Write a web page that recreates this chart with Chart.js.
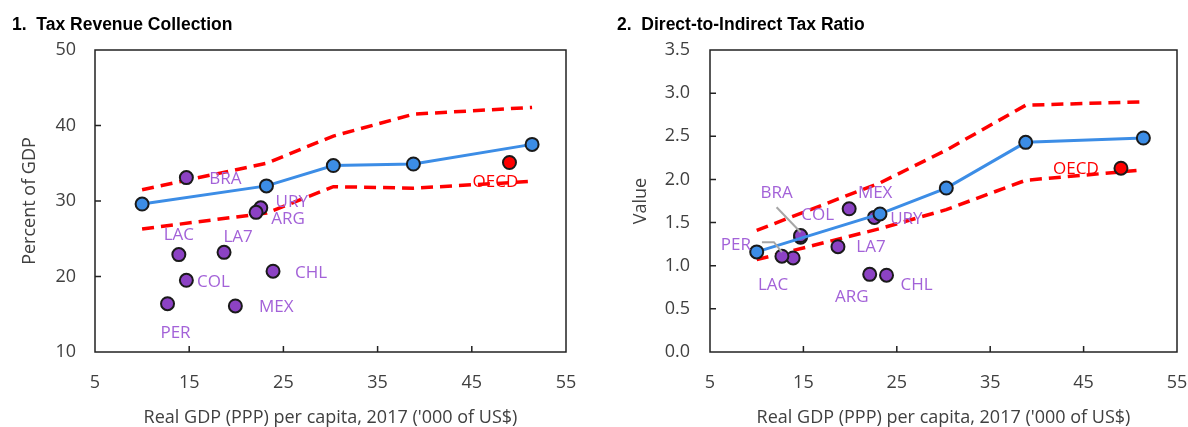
<!DOCTYPE html>
<html>
<head>
<meta charset="utf-8">
<script src="https://cdn.jsdelivr.net/npm/chart.js@4.4.1/dist/chart.umd.min.js"></script>
<style>
  html, body { margin: 0; padding: 0; background: #fff; }
  #wrap { position: relative; width: 1188px; height: 427px; overflow: hidden; }
  canvas { position: absolute; top: 0; }
</style>
</head>
<body>
<div id="wrap">
  <canvas id="revenue-chart" width="594" height="427" style="left:0"></canvas>
  <canvas id="ratio-chart" width="594" height="427" style="left:594px"></canvas>
</div>
<script>
// fitted line (GDP per capita, '000 US$) and its bands
const fitGdp = [10.0, 23.2, 30.3, 38.8, 51.4];
const revenueFit = [29.6, 32.0, 34.7, 34.9, 37.5];
const revenueUpper = [31.5, 35.0, 38.6, 41.5, 42.4];
const revenueLower = [26.3, 28.4, 31.9, 31.7, 32.6];
const ratioFit = [1.16, 1.60, 1.90, 2.43, 2.48];
const ratioUpper = [1.41, 1.96, 2.34, 2.86, 2.90];
const ratioLower = [1.07, 1.43, 1.65, 1.99, 2.11];

// countries
const countries = ["BRA", "URY", "ARG", "LAC", "LA7", "COL", "CHL", "PER", "MEX"];
const countryGdp = [14.7, 22.6, 22.1, 13.9, 18.7, 14.7, 23.9, 12.7, 19.9];
const countryRevenue = [33.1, 29.1, 28.5, 22.9, 23.2, 19.5, 20.7, 16.4, 16.1];
const countryRatio = [1.33, 1.56, 0.90, 1.09, 1.22, 1.35, 0.89, 1.11, 1.66];

const oecdGdp = [49.0];
const oecdRevenue = [35.1];
const oecdRatio = [2.13];

// label placement (pixels from the point)
const revenueLabelOffsets = [[39, 2], [31, -6], [32, 7], [0, -19], [14, -15], [27, 2], [38, 2], [8, 29], [41, 1]];
const ratioLabelOffsets = [[-24, -44], [32, 2], [-18, 23], [-20, 27], [33, 0], [17, -20], [30, 10], [-46, -11], [26, -16]];
const ratioLeaders = [[[0, -5], [-24, -30]], null, null, null, null, null, null, [[0, -4], [-8, -14], [-20, -14]], null];

const BLUE = "#3c8de6";
const RED = "#ff0000";
const PURPLE = "#8c42c4";
const LABEL_PURPLE = "#a362d8";
const TEXT = "#404040";
const FONT = "'Open Sans', 'Noto Sans', sans-serif";

function pts(xs, ys) {
  return xs.map((x, i) => ({ x: x, y: ys[i] }));
}

const framePlugin = {
  id: "frame",
  beforeDatasetsDraw(chart) {
    const { ctx, chartArea: a, scales } = chart;
    ctx.save();
    ctx.strokeStyle = "#222";
    ctx.lineWidth = 1.5;
    ctx.strokeRect(a.left, a.top, a.right - a.left, a.bottom - a.top);
    ctx.beginPath();
    const xt = scales.x.ticks;
    xt.slice(1, -1).forEach((t) => {
      const px = scales.x.getPixelForValue(t.value);
      ctx.moveTo(px, a.bottom);
      ctx.lineTo(px, a.bottom - 6);
    });
    const yt = scales.y.ticks;
    yt.slice(1, -1).forEach((t) => {
      const py = scales.y.getPixelForValue(t.value);
      ctx.moveTo(a.left, py);
      ctx.lineTo(a.left + 6, py);
    });
    ctx.stroke();
    ctx.restore();
  },
};

const labelPlugin = {
  id: "pointLabels",
  afterDatasetsDraw(chart) {
    const ctx = chart.ctx;
    ctx.save();
    ctx.font = "17px " + FONT;
    ctx.textAlign = "center";
    ctx.textBaseline = "middle";
    chart.data.datasets.forEach((ds, di) => {
      if (!ds.pointLabels) return;
      const meta = chart.getDatasetMeta(di);
      meta.data.forEach((pt, i) => {
        const off = ds.labelOffsets[i];
        const lead = ds.leaders && ds.leaders[i];
        if (lead) {
          ctx.strokeStyle = "#a6a6a6";
          ctx.lineWidth = 2;
          ctx.beginPath();
          lead.forEach((p, k) => {
            if (k === 0) ctx.moveTo(pt.x + p[0], pt.y + p[1]);
            else ctx.lineTo(pt.x + p[0], pt.y + p[1]);
          });
          ctx.stroke();
        }
        ctx.fillStyle = ds.labelColor;
        ctx.fillText(ds.pointLabels[i], pt.x + off[0], pt.y + off[1]);
      });
    });
    ctx.restore();
  },
};

function makeChart(id, cfg) {
  const ctx = document.getElementById(id).getContext("2d");
  const datasets = [
    {
      data: pts(fitGdp, cfg.fit),
      showLine: true,
      borderColor: BLUE,
      borderWidth: 3,
      pointBackgroundColor: BLUE,
      pointBorderColor: "#1a1a1a",
      pointBorderWidth: 2,
      pointRadius: 6.5,
    },
    {
      data: pts(oecdGdp, cfg.oecd),
      pointBackgroundColor: RED,
      pointBorderColor: "#1a1a1a",
      pointBorderWidth: 2,
      pointRadius: 6.5,
      pointLabels: ["OECD"],
      labelOffsets: [cfg.oecdOffset],
      labelColor: RED,
    },
    {
      data: pts(countryGdp, cfg.countries),
      pointBackgroundColor: PURPLE,
      pointBorderColor: "#1a1a1a",
      pointBorderWidth: 2,
      pointRadius: 6.5,
      pointLabels: countries,
      labelOffsets: cfg.offsets,
      leaders: cfg.leaders,
      labelColor: LABEL_PURPLE,
    },
    {
      data: pts(fitGdp, cfg.upper),
      showLine: true,
      borderColor: RED,
      borderWidth: 3.5,
      borderDash: [12, 7],
      pointRadius: 0,
    },
    {
      data: pts(fitGdp, cfg.lower),
      showLine: true,
      borderColor: RED,
      borderWidth: 3.5,
      borderDash: [12, 7],
      pointRadius: 0,
    },
  ];

  new Chart(ctx, {
    type: "scatter",
    data: { datasets: datasets },
    plugins: [framePlugin, labelPlugin],
    options: {
      animation: false,
      responsive: false,
      events: [],
      layout: { padding: { left: cfg.padLeft, right: cfg.padRight, top: 0, bottom: 0 } },
      plugins: {
        legend: { display: false },
        tooltip: { enabled: false },
        title: {
          display: true,
          text: cfg.title,
          align: "start",
          color: "#000",
          font: { family: "'Liberation Sans', Arial, sans-serif", size: 17.5, weight: "bold" },
          padding: { top: 15, bottom: 14 },
        },
      },
      scales: {
        x: {
          type: "linear",
          min: 5,
          max: 55,
          grid: { display: false, drawTicks: false },
          border: { display: false },
          ticks: { stepSize: 10, padding: 20, color: TEXT, font: { family: FONT, size: 18 } },
          title: {
            display: true,
            text: "Real GDP (PPP) per capita, 2017 ('000 of US$)",
            color: TEXT,
            font: { family: FONT, size: 18, lineHeight: 1 },
            padding: { top: 0, bottom: 0 },
          },
          afterFit(scale) {
            scale.height = 75;
            scale.paddingLeft = 0;
            scale.paddingRight = 8;
          },
        },
        y: {
          min: cfg.yMin,
          max: cfg.yMax,
          grid: { display: false, drawTicks: false },
          border: { display: false },
          ticks: {
            stepSize: cfg.yStep,
            padding: cfg.yTickPad,
            color: TEXT,
            font: { family: FONT, size: 18 },
            callback: cfg.yFormat,
          },
          title: {
            display: true,
            text: cfg.yTitle,
            color: TEXT,
            font: { family: FONT, size: 18 },
            padding: { top: cfg.yTitlePad, bottom: 0 },
          },
          afterFit(scale) {
            scale.width = cfg.yWidth;
          },
        },
      },
    },
  });
}

makeChart("revenue-chart", {
  title: "1.  Tax Revenue Collection",
  fit: revenueFit,
  upper: revenueUpper,
  lower: revenueLower,
  countries: countryRevenue,
  oecd: oecdRevenue,
  offsets: revenueLabelOffsets,
  leaders: null,
  oecdOffset: [-14, 20],
  yMin: 10,
  yMax: 50,
  yStep: 10,
  yFormat: (v) => v,
  yTitle: "Percent of GDP",
  yTitlePad: 7,
  yTickPad: 19,
  yWidth: 83,
  padLeft: 12,
  padRight: 28,
});

makeChart("ratio-chart", {
  title: "2.  Direct-to-Indirect Tax Ratio",
  fit: ratioFit,
  upper: ratioUpper,
  lower: ratioLower,
  countries: countryRatio,
  oecd: oecdRatio,
  offsets: ratioLabelOffsets,
  leaders: ratioLeaders,
  oecdOffset: [-45, 1],
  yMin: 0,
  yMax: 3.5,
  yStep: 0.5,
  yFormat: (v) => v.toFixed(1),
  yTitle: "Value",
  yTitlePad: 13,
  yTickPad: 20,
  yWidth: 93,
  padLeft: 23,
  padRight: 11,
});
</script>
</body>
</html>
